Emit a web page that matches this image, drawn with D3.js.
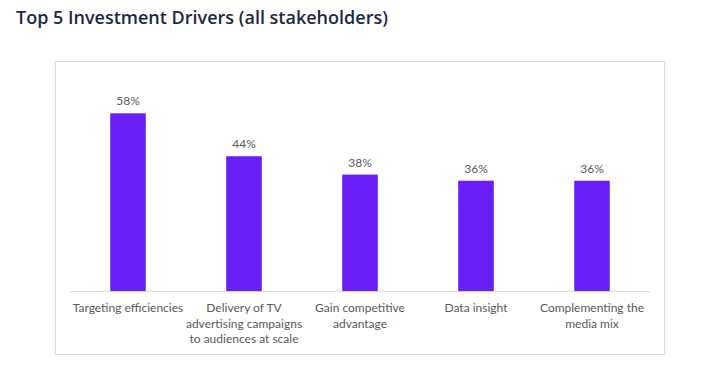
<!DOCTYPE html>
<html><head><meta charset="utf-8">
<script src="https://cdn.jsdelivr.net/npm/d3@7"></script>
<style>body{margin:0;background:#fff;}svg{display:block;}</style>
</head><body>
<script>
const title = "Top 5 Investment Drivers (all stakeholders)";
const categories = [
  ["Targeting efficiencies"],
  ["Delivery of TV", "advertising campaigns", "to audiences at scale"],
  ["Gain competitive", "advantage"],
  ["Data insight"],
  ["Complementing the", "media mix"]
];
const values = [58, 44, 38, 36, 36];

const W = 728, H = 373;
const svg = d3.select("body").append("svg").attr("width", W).attr("height", H);

svg.append("text").attr("x", 16).attr("y", 24)
  .attr("font-family", "Open Sans").attr("font-weight", 600).attr("font-size", 18)
  .attr("fill", "#1c2846").text(title);

svg.append("rect").attr("x", 55.5).attr("y", 61.5).attr("width", 609).attr("height", 293)
  .attr("fill", "#fff").attr("stroke", "#d9d9d9").attr("stroke-width", 1);

const x = d3.scaleBand().domain(d3.range(values.length)).range([70, 650])
  .paddingInner(0.693).paddingOuter(0.3465);
const y = d3.scaleLinear().domain([0, 60]).range([291, 107.2]);

svg.append("line").attr("x1", 70).attr("x2", 650).attr("y1", 291.5).attr("y2", 291.5)
  .attr("stroke", "#d9d9d9").attr("stroke-width", 1);

svg.selectAll("rect.bar").data(values).join("rect").attr("class", "bar")
  .attr("x", (d, i) => x(i)).attr("width", x.bandwidth())
  .attr("y", d => y(d)).attr("height", d => y(0) - y(d))
  .attr("fill", "#6a1ff8");

svg.selectAll("text.val").data(values).join("text").attr("class", "val")
  .attr("x", (d, i) => x(i) + x.bandwidth() / 2).attr("y", d => y(d) - 8)
  .attr("text-anchor", "middle").attr("font-family", "Lato").attr("font-size", 12)
  .attr("fill", "#595959").text(d => d + "%");

const g = svg.selectAll("text.cat").data(categories).join("text").attr("class", "cat")
  .attr("text-anchor", "middle").attr("font-family", "Lato").attr("font-size", 12)
  .attr("fill", "#595959");
g.each(function(lines, i) {
  const t = d3.select(this);
  lines.forEach((ln, k) => {
    t.append("tspan").attr("x", x(i) + x.bandwidth() / 2).attr("y", 312 + k * 15.5).text(ln);
  });
});
</script>
</body></html>
